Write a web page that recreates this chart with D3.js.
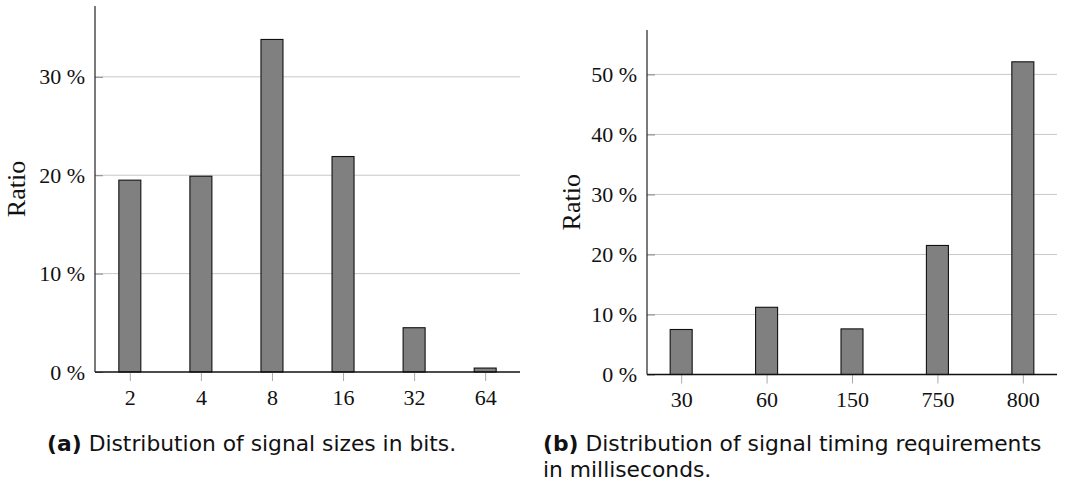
<!DOCTYPE html>
<html>
<head>
<meta charset="utf-8">
<script src="https://cdn.jsdelivr.net/npm/d3@7"></script>
<style>
  html, body { margin: 0; padding: 0; background: #fff; }
  svg { display: block; }
</style>
</head>
<body>
<svg id="fig" width="1068" height="489"></svg>
<script>
// (a) signal sizes in bits
const sizeCategories = ["2", "4", "8", "16", "32", "64"];
const sizeRatios = [19.5, 19.9, 33.8, 21.9, 4.5, 0.4];
const sizeTicks = [0, 10, 20, 30];

// (b) signal timing requirements in milliseconds
const timingCategories = ["30", "60", "150", "750", "800"];
const timingRatios = [7.5, 11.2, 7.6, 21.5, 52.1];
const timingTicks = [0, 10, 20, 30, 40, 50];

const yLabel = "Ratio";
const captionA = { tag: "(a)", lines: ["Distribution of signal sizes in bits."] };
const captionB = { tag: "(b)", lines: ["Distribution of signal timing requirements", "in milliseconds."] };

const svg = d3.select("#fig");
const serif = '"Liberation Serif", "DejaVu Serif", serif';
const sans = '"DejaVu Sans", "Liberation Sans", sans-serif';
const tickFont = 22;
const captionFont = 21.8;

function panel(opts) {
  const { left, top, right, bottom, yMax, padding, cats, vals, ticks, labelX } = opts;
  const g = svg.append("g");

  const x = d3.scalePoint().domain(cats).range([left, right]).padding(padding);
  const y = d3.scaleLinear().domain([0, yMax]).range([bottom, top]);
  const barW = 22;

  // horizontal grid
  g.append("g")
    .selectAll("line")
    .data(ticks.filter(t => t > 0))
    .join("line")
    .attr("x1", left).attr("x2", right)
    .attr("y1", d => y(d)).attr("y2", d => y(d))
    .attr("stroke", "#c8c8c8").attr("stroke-width", 1);

  // bars
  g.append("g")
    .selectAll("rect")
    .data(vals)
    .join("rect")
    .attr("x", (d, i) => x(cats[i]) - barW / 2)
    .attr("width", barW)
    .attr("y", d => y(d))
    .attr("height", d => y(0) - y(d))
    .attr("fill", "#808080")
    .attr("stroke", "#111")
    .attr("stroke-width", 1.1);

  // y axis: inward ticks, percentage labels
  const yAxis = d3.axisLeft(y)
    .tickValues(ticks)
    .tickSize(0)
    .tickPadding(10)
    .tickFormat(d => d + "\u2005%");
  const ya = g.append("g").attr("transform", `translate(${left},0)`).call(yAxis);
  ya.select(".domain").remove();
  ya.selectAll(".tick text")
    .attr("font-size", tickFont)
    .attr("fill", "#111")
    .attr("font-family", serif);
  ya.selectAll(".tick").append("line")
    .attr("x1", 0).attr("x2", 8)
    .attr("stroke", "#888").attr("stroke-width", 1);

  // x axis: outward ticks
  const xAxis = d3.axisBottom(x).tickSize(9).tickPadding(8);
  const xa = g.append("g").attr("transform", `translate(0,${bottom})`).call(xAxis);
  xa.select(".domain").remove();
  xa.selectAll(".tick line").attr("stroke", "#aaa").attr("stroke-width", 1);
  xa.selectAll(".tick text")
    .attr("font-size", tickFont)
    .attr("fill", "#111")
    .attr("font-family", serif);

  // axis lines
  g.append("line")
    .attr("x1", left).attr("x2", left)
    .attr("y1", top).attr("y2", bottom)
    .attr("stroke", "#222").attr("stroke-width", 1.2);
  g.append("line")
    .attr("x1", left).attr("x2", right)
    .attr("y1", bottom).attr("y2", bottom)
    .attr("stroke", "#111").attr("stroke-width", 1.3);

  // axis title
  g.append("text")
    .attr("transform", `translate(${labelX},${(top + bottom) / 2}) rotate(-90)`)
    .attr("text-anchor", "middle")
    .attr("dominant-baseline", "middle")
    .attr("font-family", serif)
    .attr("font-size", 26)
    .attr("fill", "#111")
    .text(yLabel);
}

function caption(c, x0, y0) {
  const t = svg.append("text")
    .attr("x", x0).attr("y", y0)
    .attr("font-family", sans)
    .attr("font-size", captionFont)
    .attr("fill", "#111");
  t.append("tspan").attr("font-weight", "bold").text(c.tag);
  t.append("tspan").attr("dx", 7).text(c.lines[0]);
  c.lines.slice(1).forEach((line, i) => {
    svg.append("text")
      .attr("x", x0).attr("y", y0 + 26 * (i + 1))
      .attr("font-family", sans)
      .attr("font-size", captionFont)
      .attr("fill", "#111")
      .text(line);
  });
}

panel({
  left: 95, top: 6, right: 520, bottom: 372, yMax: 37.2, padding: 0.49,
  cats: sizeCategories, vals: sizeRatios, ticks: sizeTicks, labelX: 19
});
panel({
  left: 647, top: 30, right: 1057, bottom: 374.5, yMax: 57.4, padding: 0.4,
  cats: timingCategories, vals: timingRatios, ticks: timingTicks, labelX: 574
});

caption(captionA, 47, 451);
caption(captionB, 543, 451);
</script>
</body>
</html>
